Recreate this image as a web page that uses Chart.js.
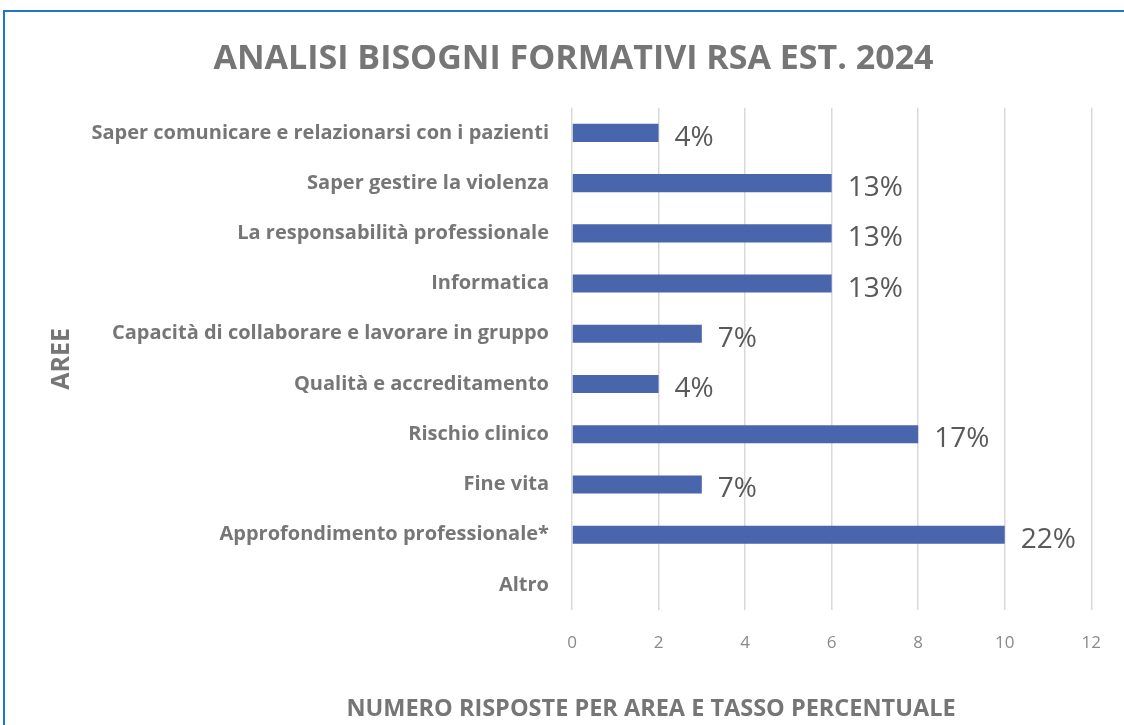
<!DOCTYPE html>
<html>
<head>
<meta charset="utf-8">
<script src="https://cdn.jsdelivr.net/npm/chart.js@4"></script>
<style>
  html, body { margin: 0; padding: 0; background: #fff; overflow: hidden; }
  #wrap { position: relative; width: 1124px; height: 725px; }
  #frame { position: absolute; left: 3px; top: 10px; width: 1140px; height: 740px; border: 2px solid #1f77c9; box-sizing: border-box; }
  canvas { position: absolute; left: 0; top: 0; }
</style>
</head>
<body>
<div id="wrap">
  <div id="frame"></div>
  <canvas id="chart" width="1124" height="725"></canvas>
</div>
<script>
const categories = [
    'Saper comunicare e relazionarsi con i pazienti',
    'Saper gestire la violenza',
    'La responsabilità professionale',
    'Informatica',
    'Capacità di collaborare e lavorare in gruppo',
    'Qualità e accreditamento',
    'Rischio clinico',
    'Fine vita',
    'Approfondimento professionale*',
    'Altro'
];
const risposte = [2, 6, 6, 6, 3, 2, 8, 3, 10, 0];
const percentuali = [4, 13, 13, 13, 7, 4, 17, 7, 22, null];
const xTicks = [0, 2, 4, 6, 8, 10, 12];
const xTitle = 'NUMERO RISPOSTE PER AREA E TASSO PERCENTUALE';

const grey = '#767676';
const font = 'Open Sans';

// percent next to each bar + x axis title (centred like in the original, not on the plot area)
const extraText = {
    id: 'extraText',
    afterDatasetsDraw(chart) {
        const ctx = chart.ctx;
        const meta = chart.getDatasetMeta(0);
        ctx.save();
        ctx.font = '28px "Open Sans"';
        ctx.fillStyle = '#595959';
        ctx.textAlign = 'left';
        ctx.textBaseline = 'middle';
        meta.data.forEach((bar, i) => {
            if (percentuali[i] == null) return;
            ctx.fillText(percentuali[i] + '%', bar.x + 16, bar.y + 5);
        });
        ctx.font = 'bold 23.5px "Open Sans"';
        ctx.fillStyle = grey;
        ctx.textAlign = 'center';
        ctx.fillText(xTitle, 651, 709);
        ctx.restore();
    }
};

new Chart(document.getElementById('chart'), {
    type: 'bar',
    data: {
        labels: categories,
        datasets: [{
            data: risposte,
            backgroundColor: '#4966ad',
            barPercentage: 0.36,
            categoryPercentage: 1
        }]
    },
    options: {
        indexAxis: 'y',
        responsive: false,
        animation: false,
        layout: { padding: { top: 0, right: 23, bottom: 0, left: 46 } },
        plugins: {
            legend: { display: false },
            tooltip: { enabled: false },
            title: {
                display: true,
                text: 'ANALISI BISOGNI FORMATIVI RSA EST. 2024',
                color: grey,
                font: { family: font, size: 34, weight: 'bold', lineHeight: 1.2 },
                padding: { top: 39, bottom: 28 }
            }
        },
        scales: {
            x: {
                min: 0,
                max: 12,
                afterBuildTicks: scale => { scale.ticks = xTicks.map(v => ({ value: v })); },
                afterFit: scale => { scale.height = 115; },
                grid: { color: '#d9d9d9', lineWidth: 1.5, drawTicks: false },
                border: { display: false },
                ticks: { color: '#8a8a8a', padding: 23, font: { family: font, size: 17 } }
            },
            y: {
                afterFit: scale => { scale.width = 526; },
                grid: { display: false, drawTicks: false },
                border: { display: false },
                ticks: { color: grey, padding: 23, font: { family: font, size: 20, weight: 'bold' } },
                title: {
                    display: true,
                    text: 'AREE',
                    color: grey,
                    font: { family: font, size: 25, weight: 'bold', lineHeight: 1.2 },
                    padding: { top: 1, bottom: 0 }
                }
            }
        }
    },
    plugins: [extraText]
});
</script>
</body>
</html>
